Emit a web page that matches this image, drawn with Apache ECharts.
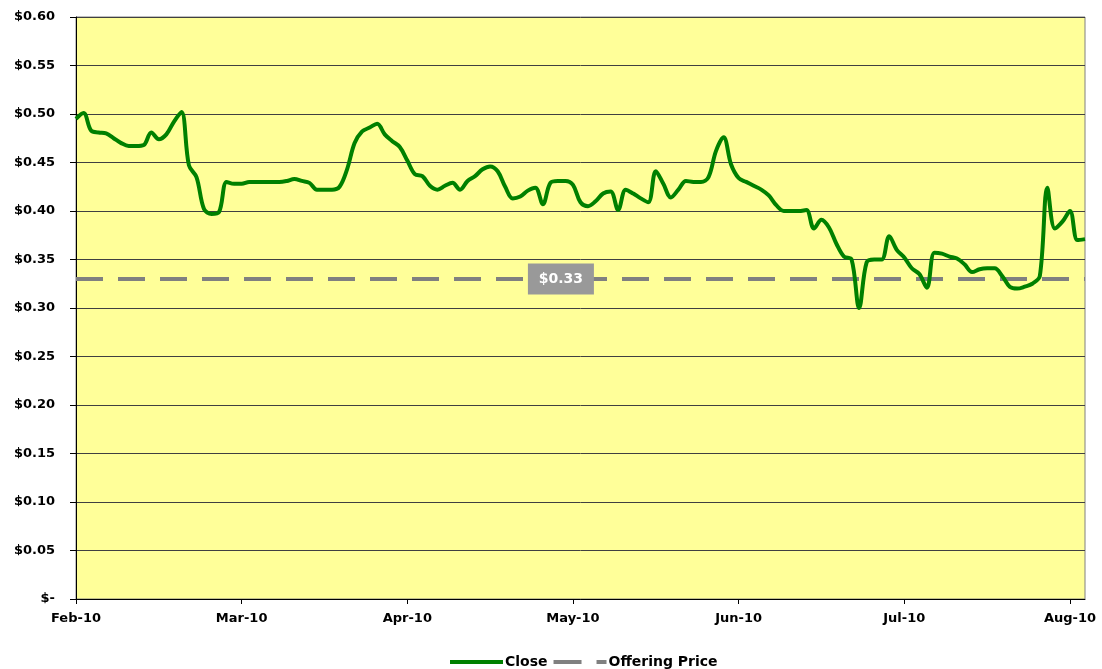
<!DOCTYPE html>
<html>
<head>
<meta charset="utf-8">
<script src="https://cdn.jsdelivr.net/npm/echarts@6/dist/echarts.min.js"></script>
<style>
  html, body { margin: 0; padding: 0; background: #fff; }
  #chart { width: 1102px; height: 669px; }
</style>
</head>
<body>
<div id="chart"></div>
<script>
// ---------- data ----------
const monthLabels = ['Feb-10', 'Mar-10', 'Apr-10', 'May-10', 'Jun-10', 'Jul-10', 'Aug-10']
const labelStep = 22 // trading days between month labels

// daily close, Feb-10 .. early Aug-10
const closePrices = [
  0.495, 0.501, 0.483, 0.481, 0.480, 0.475, 0.470, 0.467, 0.467, 0.468,
  0.481, 0.474, 0.479, 0.492, 0.502, 0.447, 0.435, 0.402, 0.397, 0.399,
  0.430, 0.428, 0.428, 0.430, 0.430, 0.430, 0.430, 0.430, 0.431, 0.433,
  0.431, 0.429, 0.422, 0.422, 0.422, 0.425, 0.443, 0.470, 0.482, 0.486,
  0.490, 0.479, 0.472, 0.466, 0.452, 0.438, 0.436, 0.426, 0.422, 0.426,
  0.429, 0.422, 0.431, 0.436, 0.443, 0.446, 0.441, 0.425, 0.413, 0.415,
  0.421, 0.424, 0.407, 0.429, 0.431, 0.431, 0.427, 0.409, 0.405, 0.410,
  0.418, 0.420, 0.401, 0.422, 0.418, 0.413, 0.409, 0.441, 0.428, 0.414,
  0.422, 0.431, 0.430, 0.430, 0.435, 0.462, 0.476, 0.448, 0.434, 0.430,
  0.426, 0.422, 0.416, 0.406, 0.400, 0.400, 0.400, 0.401, 0.382, 0.391,
  0.383, 0.366, 0.353, 0.350, 0.300, 0.347, 0.350, 0.350, 0.374, 0.360,
  0.352, 0.341, 0.335, 0.321, 0.357, 0.356, 0.353, 0.351, 0.345, 0.337,
  0.340, 0.341, 0.341, 0.333, 0.322, 0.320, 0.322, 0.325, 0.333, 0.424,
  0.382, 0.389, 0.400, 0.370, 0.371
]

const offeringPrice = 0.33
const offeringLabelIndex = 64

const yTicks = { min: 0, max: 0.6, step: 0.05 }

// ---------- chart ----------
const font = 'DejaVu Sans, Verdana, sans-serif'
const days = closePrices.map((_, i) => i)
const offerLine = days.map(() => offeringPrice)

const chart = echarts.init(document.getElementById('chart'))
chart.setOption({
  animation: false,
  backgroundColor: '#fff',
  textStyle: { fontFamily: font },
  grid: {
    left: 76, right: 17, top: 17, bottom: 70,
    show: true, backgroundColor: '#FFFF99', borderColor: '#808080', borderWidth: 1,
  },
  legend: {
    left: 445, top: 650,
    itemWidth: 53, itemHeight: 4, itemGap: 6,
    textStyle: { fontFamily: font, fontWeight: 'bold', fontSize: 14, color: '#000', padding: [0, 0, 0, -3] },
    data: [
      { name: 'Close', icon: 'rect', itemStyle: { color: '#008000' } },
      { name: 'Offering Price', icon: 'path://M0,0H28V4H0Z M43,0H53V4H43Z', itemStyle: { color: '#808080' } },
    ],
  },
  xAxis: {
    type: 'category', data: days, boundaryGap: false,
    axisLine: { lineStyle: { color: '#000', width: 1 } },
    axisTick: { show: true, interval: labelStep - 1, length: 5, lineStyle: { color: '#000' } },
    axisLabel: {
      interval: labelStep - 1, margin: 13,
      fontFamily: font, fontWeight: 'bold', fontSize: 13, color: '#000',
      formatter: (v, idx) => monthLabels[Math.round(idx / labelStep)] || '',
    },
    splitLine: { show: false },
  },
  yAxis: {
    type: 'value', min: yTicks.min, max: yTicks.max, interval: yTicks.step,
    axisLine: { show: true, lineStyle: { color: '#000', width: 1 } },
    axisTick: { show: true, length: 6, lineStyle: { color: '#000' } },
    axisLabel: {
      margin: 21, fontFamily: font, fontWeight: 'bold', fontSize: 13, color: '#000',
      formatter: (v) => v === 0 ? '$-' : '$' + v.toFixed(2),
    },
    splitLine: { lineStyle: { color: '#404040', width: 1 } },
  },
  series: [
    {
      name: 'Offering Price', type: 'line', data: offerLine,
      symbol: 'none', z: 2,
      lineStyle: { color: '#808080', width: 4, type: [27, 15] },
      itemStyle: { color: '#808080' },
      markPoint: {
        symbol: 'rect', symbolSize: [66, 31], symbolOffset: [3, 0],
        itemStyle: { color: '#999999' },
        label: {
          show: true, position: 'inside', formatter: '$0.33',
          color: '#fff', fontFamily: font, fontWeight: 'bold', fontSize: 14,
        },
        data: [{ coord: [offeringLabelIndex, offeringPrice] }],
      },
    },
    {
      name: 'Close', type: 'line', data: closePrices,
      symbol: 'none', smooth: 0.35, z: 3,
      lineStyle: { color: '#008000', width: 4 },
      itemStyle: { color: '#008000' },
    },
  ],
})
</script>
</body>
</html>
